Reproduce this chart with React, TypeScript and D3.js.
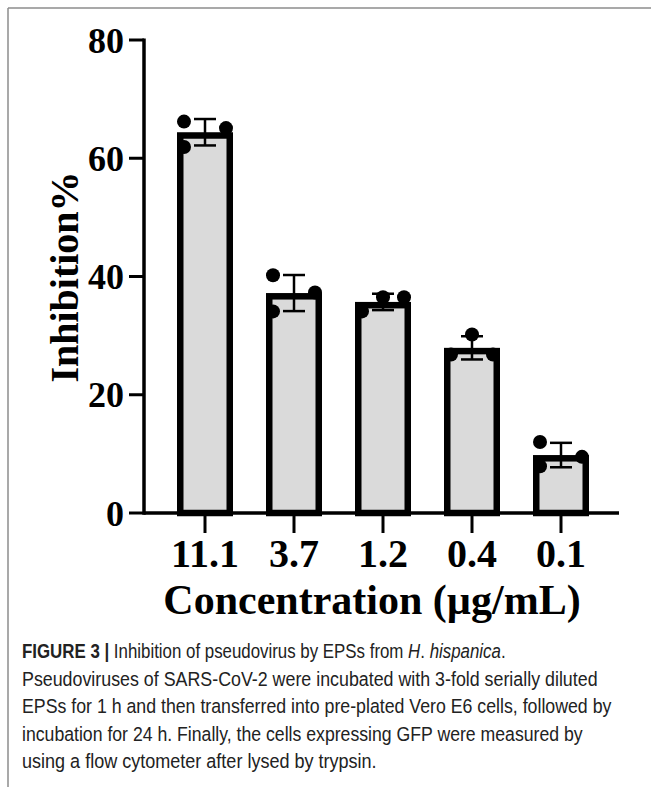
import React, { useEffect, useRef } from 'react'
import * as d3 from 'd3'

// concentrations (µg/mL) on the x axis
const concentrations = ['11.1', '3.7', '1.2', '0.4', '0.1']
// three replicate inhibition values per concentration
const replicates = [
    [66.2, 65.1, 61.9],
    [40.2, 37.3, 34.1],
    [36.5, 36.5, 34.1],
    [30.2, 26.8, 26.8],
    [12.0, 9.5, 7.9],
]
// which side of the bar each replicate dot sits (-1 left, 0 middle, 1 right)
const dotSide = [
    [-1, 1, -1],
    [-1, 1, -1],
    [0, 1, -1],
    [0, -1, 1],
    [-1, 1, -1],
]
const yTicks = [0, 20, 40, 60, 80]

const captionLines = [
    'Pseudoviruses of SARS-CoV-2 were incubated with 3-fold serially diluted',
    'EPSs for 1 h and then transferred into pre-plated Vero E6 cells, followed by',
    'incubation for 24 h. Finally, the cells expressing GFP were measured by',
    'using a flow cytometer after lysed by trypsin.',
]
// rendered width of each caption line, first line included (the original uses a condensed face)
const captionWidths = [484, 576, 590, 561, 355]

export default function App() {
    const svgRef = useRef<SVGSVGElement>(null)

    useEffect(() => {
        const W = 651
        const H = 787
        const svg = d3.select(svgRef.current).attr('width', W).attr('height', H)
        svg.selectAll('*').remove()

        const serif = "'Liberation Serif', 'Times New Roman', serif"
        const sans = "'Liberation Sans', Arial, sans-serif"

        // frame around the figure
        svg.append('line').attr('x1', 8).attr('x2', W).attr('y1', 8).attr('y2', 8)
            .attr('stroke', '#8c8c8c').attr('stroke-width', 1.5)
        svg.append('line').attr('x1', 8).attr('x2', 8).attr('y1', 8).attr('y2', H)
            .attr('stroke', '#8c8c8c').attr('stroke-width', 1.5)

        const axisX = 144
        const y = d3.scaleLinear().domain([0, 80]).range([513, 40])
        const x = d3.scalePoint<string>().domain(concentrations).range([205, 561])

        const barW = 56
        const sw = 6.5

        const stats = replicates.map((r, i) => ({
            conc: concentrations[i],
            vals: r,
            mean: d3.mean(r) as number,
            sd: d3.deviation(r) as number,
        }))

        const chart = svg.append('g')

        // bars
        chart.selectAll('rect.bar')
            .data(stats)
            .enter()
            .append('rect')
            .attr('class', 'bar')
            .attr('x', (d) => (x(d.conc) as number) - barW / 2 + sw / 2)
            .attr('width', barW - sw)
            .attr('y', (d) => y(d.mean) + sw / 2)
            .attr('height', (d) => y(0) - y(d.mean) - sw / 2)
            .attr('fill', '#dadada')
            .attr('stroke', '#000')
            .attr('stroke-width', sw)

        // error bars (mean ± SD)
        const eb = chart.selectAll('g.err').data(stats).enter().append('g').attr('class', 'err')
        eb.append('line')
            .attr('x1', (d) => x(d.conc) as number)
            .attr('x2', (d) => x(d.conc) as number)
            .attr('y1', (d) => y(d.mean - d.sd))
            .attr('y2', (d) => y(d.mean + d.sd))
            .attr('stroke', '#000').attr('stroke-width', 2.5)
        ;[1, -1].forEach((s) => {
            eb.append('line')
                .attr('x1', (d) => (x(d.conc) as number) - 11)
                .attr('x2', (d) => (x(d.conc) as number) + 11)
                .attr('y1', (d) => y(d.mean + s * d.sd))
                .attr('y2', (d) => y(d.mean + s * d.sd))
                .attr('stroke', '#000').attr('stroke-width', 2.5)
        })

        // replicate dots
        const dots = stats.flatMap((d, i) =>
            d.vals.map((v, j) => ({ conc: d.conc, v, side: dotSide[i][j] }))
        )
        chart.selectAll('circle.dot')
            .data(dots)
            .enter()
            .append('circle')
            .attr('class', 'dot')
            .attr('cx', (d) => (x(d.conc) as number) + d.side * 21)
            .attr('cy', (d) => y(d.v))
            .attr('r', 7)
            .attr('fill', '#000')

        // y axis
        const yAxis = chart.append('g').attr('transform', `translate(${axisX},0)`)
        yAxis.append('line').attr('y1', y(80) - 1.5).attr('y2', y(0) + 1.75)
            .attr('stroke', '#000').attr('stroke-width', 3.5)
        yTicks.forEach((t) => {
            yAxis.append('line').attr('x1', -15).attr('x2', 0).attr('y1', y(t)).attr('y2', y(t))
                .attr('stroke', '#000').attr('stroke-width', 3)
            yAxis.append('text')
                .attr('x', -20)
                .attr('y', y(t))
                .attr('dy', '0.35em')
                .attr('text-anchor', 'end')
                .attr('font-family', serif)
                .attr('font-weight', 'bold')
                .attr('font-size', 36)
                .text(t)
        })

        // x axis
        const xAxis = chart.append('g').attr('transform', `translate(0,${y(0)})`)
        xAxis.append('line').attr('x1', axisX).attr('x2', 619)
            .attr('stroke', '#000').attr('stroke-width', 3.5)
        concentrations.forEach((c) => {
            xAxis.append('line').attr('x1', x(c) as number).attr('x2', x(c) as number)
                .attr('y1', 0).attr('y2', 20)
                .attr('stroke', '#000').attr('stroke-width', 3)
            xAxis.append('text')
                .attr('x', x(c) as number)
                .attr('y', 54)
                .attr('text-anchor', 'middle')
                .attr('font-family', serif)
                .attr('font-weight', 'bold')
                .attr('font-size', 40)
                .text(c)
        })

        // axis titles
        svg.append('text')
            .attr('x', 372)
            .attr('y', 614)
            .attr('text-anchor', 'middle')
            .attr('font-family', serif)
            .attr('font-weight', 'bold')
            .attr('font-size', 42)
            .text('Concentration (µg/mL)')

        svg.append('text')
            .attr('transform', 'translate(78,277) rotate(-90)')
            .attr('text-anchor', 'middle')
            .attr('font-family', serif)
            .attr('font-weight', 'bold')
            .attr('font-size', 40)
            .text('Inhibition%')

        // caption, squeezed horizontally to mimic the condensed face
        const cap = svg.append('g').attr('font-family', sans).attr('font-size', 19.5).attr('fill', '#222')
        const fitLine = (i: number) => {
            const g = cap.append('g')
            const t = g.append('text').attr('x', 0).attr('y', 0)
            return { g, t }
        }
        const rows: { g: any; t: any }[] = []
        const r0 = fitLine(0)
        r0.t.append('tspan').attr('font-weight', 'bold').text('FIGURE 3 | ')
        r0.t.append('tspan').text('Inhibition of pseudovirus by EPSs from ')
        r0.t.append('tspan').attr('font-style', 'italic').text('H')
        r0.t.append('tspan').text('. ')
        r0.t.append('tspan').attr('font-style', 'italic').text('hispanica')
        r0.t.append('tspan').text('.')
        rows.push(r0)
        captionLines.forEach((line, i) => {
            const r = fitLine(i + 1)
            r.t.text(line)
            rows.push(r)
        })
        rows.forEach((r, i) => {
            const natural = (r.t.node() as SVGTextElement).getComputedTextLength() || captionWidths[i]
            const sx = captionWidths[i] / natural
            r.g.attr('transform', `translate(22,${658 + i * 27.5}) scale(${sx},1)`)
        })
    }, [])

    return (
        <div style={{ position: 'absolute', left: 0, top: 0 }}>
            <svg ref={svgRef} />
        </div>
    )
}
